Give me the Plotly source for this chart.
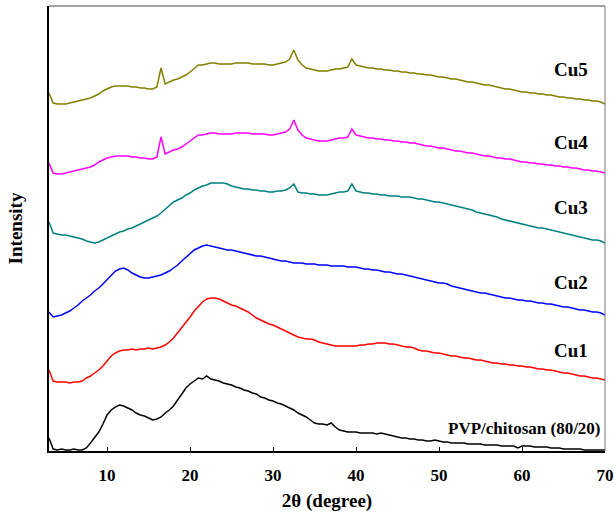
import numpy as np
import plotly.graph_objects as go

# 2-theta sample grid (degrees), 0.5 deg steps from 3 to 70
two_theta = np.round(np.arange(3.0, 70.01, 0.5), 2)

# Stacked intensities (arbitrary units, already offset)
pvp_chitosan = [
    13, 2, 1, 2, 1, 1, 2, 1, 1, 3,
    8, 13, 19, 27, 36, 41, 44, 46, 45, 43,
    41, 38, 36, 35, 33, 31, 32, 34, 38, 41,
    45, 51, 58, 63, 67, 70, 73, 72, 75, 72,
    71, 70, 68, 67, 66, 64, 63, 61, 60, 58,
    57, 54, 53, 51, 50, 48, 47, 45, 43, 41,
    38, 36, 34, 31, 28, 27, 27, 26, 28, 24,
    21, 20, 19, 19, 19, 18, 18, 18, 18, 17,
    18, 17, 16, 15, 14, 13, 13, 12, 12, 11,
    11, 10, 10, 11, 10, 9, 9, 8, 8, 8,
    8, 7, 7, 7, 7, 6, 6, 6, 6, 5,
    5, 5, 5, 3, 5, 5, 5, 4, 4, 4,
    4, 3, 3, 3, 2, 2, 2, 2, 2, 1,
    1, 1, 1, 1, 1,
]
cu1 = [
    81, 70, 69, 69, 69, 68, 69, 69, 70, 73,
    75, 78, 81, 85, 90, 95, 98, 100, 101, 101,
    102, 101, 102, 102, 103, 102, 103, 104, 106, 109,
    113, 118, 123, 128, 134, 140, 145, 149, 152, 153,
    153, 152, 150, 148, 146, 145, 143, 141, 139, 136,
    133, 131, 129, 127, 126, 124, 122, 120, 118, 116,
    114, 113, 112, 112, 111, 109, 108, 107, 106, 105,
    105, 105, 105, 105, 105, 106, 106, 107, 107, 108,
    108, 108, 107, 107, 106, 105, 104, 104, 103, 101,
    100, 100, 99, 98, 98, 97, 96, 95, 95, 94,
    93, 93, 92, 91, 91, 90, 89, 88, 88, 87,
    87, 86, 86, 85, 85, 84, 84, 83, 82, 82,
    81, 81, 80, 79, 78, 78, 77, 76, 75, 75,
    74, 73, 73, 72, 71,
]
cu2 = [
    139, 134, 135, 136, 138, 140, 143, 146, 150, 153,
    156, 160, 163, 167, 171, 176, 180, 182, 183, 181,
    178, 176, 174, 173, 173, 174, 175, 176, 178, 180,
    183, 186, 190, 194, 198, 201, 203, 205, 206, 205,
    204, 203, 202, 201, 201, 200, 199, 198, 197, 196,
    195, 195, 194, 193, 192, 191, 190, 190, 189, 188,
    188, 188, 187, 187, 187, 186, 186, 186, 185, 185,
    185, 185, 184, 184, 184, 183, 182, 182, 181, 181,
    180, 179, 179, 178, 177, 177, 176, 175, 174, 173,
    172, 171, 170, 169, 168, 168, 167, 165, 164, 163,
    162, 161, 160, 159, 158, 158, 157, 156, 155, 154,
    153, 153, 152, 151, 151, 150, 150, 149, 148, 148,
    147, 147, 146, 145, 144, 144, 143, 142, 141, 141,
    140, 139, 139, 138, 136,
]
cu3 = [
    229, 218, 217, 216, 216, 215, 214, 213, 212, 210,
    209, 208, 209, 211, 213, 215, 217, 219, 220, 222,
    223, 225, 227, 229, 231, 233, 235, 238, 242, 245,
    249, 251, 253, 256, 258, 261, 263, 265, 266, 268,
    268, 268, 268, 267, 265, 264, 263, 262, 262, 261,
    261, 260, 260, 259, 259, 260, 260, 261, 263, 267,
    259, 258, 258, 257, 257, 256, 256, 256, 257, 258,
    259, 259, 260, 267, 260, 259, 258, 258, 257, 257,
    256, 256, 255, 255, 255, 254, 254, 254, 253, 252,
    252, 251, 250, 249, 249, 248, 247, 246, 245, 244,
    243, 242, 241, 239, 238, 237, 236, 235, 234, 232,
    231, 230, 229, 228, 227, 226, 225, 224, 223, 223,
    222, 221, 220, 219, 218, 217, 216, 215, 214, 213,
    212, 211, 211, 210, 208,
]
cu4 = [
    288, 278, 277, 277, 278, 279, 280, 281, 282, 283,
    284, 286, 289, 291, 293, 294, 295, 295, 295, 295,
    294, 294, 293, 293, 292, 292, 294, 314, 297, 299,
    301, 302, 304, 307, 310, 313, 316, 316, 317, 318,
    318, 317, 317, 317, 317, 318, 318, 318, 318, 317,
    317, 317, 317, 316, 316, 317, 318, 319, 322, 331,
    321, 316, 313, 312, 311, 310, 310, 310, 311, 312,
    313, 313, 314, 322, 316, 315, 314, 313, 313, 312,
    312, 311, 311, 310, 310, 309, 309, 308, 308, 307,
    306, 305, 305, 304, 303, 303, 302, 301, 300, 300,
    299, 298, 298, 297, 296, 295, 295, 294, 293, 293,
    292, 292, 291, 290, 289, 289, 288, 288, 287, 287,
    286, 286, 285, 285, 284, 284, 283, 283, 282, 281,
    281, 280, 280, 279, 278,
]
cu5 = [
    358, 348, 347, 347, 347, 348, 349, 350, 351, 352,
    353, 355, 357, 360, 362, 364, 365, 365, 365, 365,
    364, 364, 363, 363, 362, 362, 364, 383, 367, 369,
    371, 372, 374, 376, 379, 383, 386, 386, 387, 388,
    388, 387, 387, 387, 387, 388, 388, 388, 388, 387,
    387, 387, 387, 386, 386, 387, 388, 389, 392, 401,
    391, 386, 383, 382, 381, 380, 380, 380, 381, 382,
    382, 383, 384, 392, 386, 385, 384, 383, 383, 382,
    382, 381, 381, 380, 380, 379, 379, 378, 378, 377,
    377, 376, 376, 375, 374, 374, 373, 372, 372, 371,
    370, 369, 369, 368, 367, 366, 366, 365, 364, 363,
    362, 362, 361, 360, 359, 359, 358, 358, 357, 357,
    356, 356, 355, 354, 354, 353, 353, 352, 352, 351,
    351, 350, 350, 349, 347,
]

series_names = ["PVP/chitosan (80/20)", "Cu1", "Cu2", "Cu3", "Cu4", "Cu5"]
series_values = [pvp_chitosan, cu1, cu2, cu3, cu4, cu5]
series_colors = ["#000000", "#FF0000", "#0000FF", "#008080", "#FF00FF", "#808000"]

x_ticks = [10, 20, 30, 40, 50, 60, 70]

# label placement (data coords)
label_y = [23, 101, 169, 244, 309, 382]

FONT = "Liberation Serif"

fig = go.Figure()
for name, vals, col in zip(series_names, series_values, series_colors):
    fig.add_trace(go.Scatter(x=two_theta, y=vals, mode="lines", name=name,
                             line=dict(color=col, width=1.5), showlegend=False))

annotations = []
for name, ly in zip(series_names, label_y):
    if name.startswith("PVP"):
        annotations.append(dict(x=69.8, y=ly, xref="x", yref="y", text=name,
                                showarrow=False, xanchor="right", yanchor="middle",
                                font=dict(family=FONT, size=17, color="black", weight="bold")))
    else:
        annotations.append(dict(x=65.9, y=ly, xref="x", yref="y", text=name,
                                showarrow=False, xanchor="center", yanchor="middle",
                                font=dict(family=FONT, size=19, color="black", weight="bold")))

fig.update_layout(
    width=614, height=512,
    margin=dict(l=49, r=9, t=6, b=61),
    paper_bgcolor="white", plot_bgcolor="white",
    annotations=annotations,
    xaxis=dict(range=[3, 70], tickvals=x_ticks, ticks="inside", ticklen=4,
               tickcolor="black", tickwidth=1, showline=True, linecolor="black",
               linewidth=1.5, showgrid=False, zeroline=False, automargin=False,
               tickfont=dict(family=FONT, size=17, color="black", weight="bold"),
               ticklabelstandoff=8,
               title=dict(text="2θ (degree)", standoff=10,
                          font=dict(family=FONT, size=19, color="black", weight="bold"))),
    yaxis=dict(range=[0, 445], showticklabels=False, ticks="", showline=True,
               linecolor="black", linewidth=1.5, showgrid=False, zeroline=False,
               automargin=False,
               title=dict(text="Intensity", standoff=20,
                          font=dict(family=FONT, size=19, color="black", weight="bold"))),
    shapes=[
        dict(type="line", xref="paper", yref="paper", x0=0, x1=1, y0=1, y1=1,
             line=dict(color="#444444", width=1)),
        dict(type="line", xref="paper", yref="paper", x0=1, x1=1, y0=0, y1=1,
             line=dict(color="#777777", width=1)),
    ],
)

fig.write_html("out.html", config={"displayModeBar": False})

# remove the default page margin so the figure sits at the window's top-left
with open("out.html", "r", encoding="utf-8") as f:
    html = f.read()
html = html.replace("<head>", "<head><style>html,body{margin:0;padding:0;overflow:hidden;}</style>", 1)
with open("out.html", "w", encoding="utf-8") as f:
    f.write(html)
